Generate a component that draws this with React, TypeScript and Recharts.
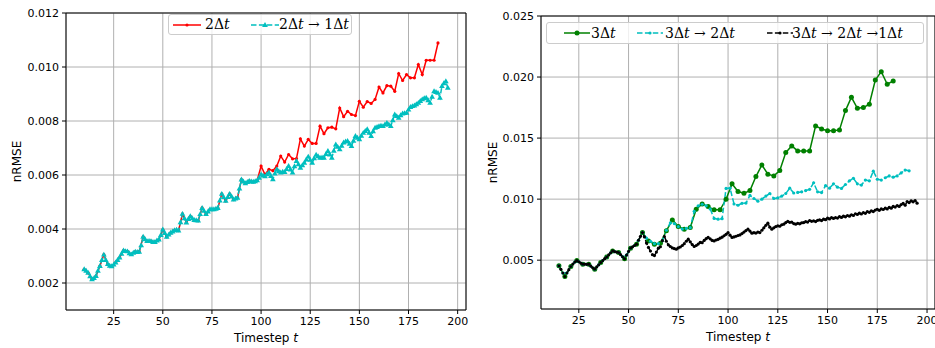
import React from 'react';
import { LineChart, Line, XAxis, YAxis, CartesianGrid, ReferenceArea } from 'recharts';

// timesteps: start, step, count
const steps = (start: number, step: number, n: number) =>
  Array.from({ length: n }, (_, i) => start + i * step);

// ---- left panel ----
const leftXTicks = [25, 50, 75, 100, 125, 150, 175, 200];
const leftYTicks = [0.002, 0.004, 0.006, 0.008, 0.01, 0.012];

// 2Δt, t = 10, 12, ..., 190
const red2dt = [
  0.00251, 0.00238, 0.00214, 0.00226, 0.00263, 0.00305, 0.0027, 0.00262, 0.00276, 0.00294,
  0.0032, 0.00317, 0.00306, 0.00316, 0.00316, 0.00371, 0.00355, 0.00355, 0.00352, 0.00361,
  0.00398, 0.00371, 0.00386, 0.00395, 0.00394, 0.00456, 0.00424, 0.00447, 0.00433, 0.00431,
  0.00478, 0.00455, 0.00473, 0.00473, 0.00478, 0.0053, 0.00504, 0.0053, 0.00509, 0.00516,
  0.00583, 0.00569, 0.00578, 0.00575, 0.0058, 0.00633, 0.00602, 0.00621, 0.00616, 0.00633,
  0.0067, 0.00648, 0.00676, 0.0066, 0.00661, 0.00734, 0.00707, 0.00732, 0.00717, 0.00717,
  0.00781, 0.00753, 0.00775, 0.00777, 0.00771, 0.00848, 0.00816, 0.00836, 0.00824, 0.0082,
  0.00873, 0.00851, 0.00872, 0.00865, 0.0088, 0.00926, 0.00904, 0.00931, 0.00929, 0.0091,
  0.00976, 0.0095, 0.00972, 0.0096, 0.0096, 0.01009, 0.00972, 0.01025, 0.01025, 0.01025,
  0.01089,
];

// 2Δt→1Δt, t = 10, 11, ..., 195
const cyan2to1 = [
  0.00251, 0.00245, 0.00238, 0.00225, 0.00214, 0.00218, 0.00226, 0.00245, 0.00263, 0.00285,
  0.00305, 0.00285, 0.0027, 0.00264, 0.00262, 0.00268, 0.00276, 0.00285, 0.00294, 0.00308,
  0.0032, 0.00318, 0.00317, 0.0031, 0.00306, 0.00312, 0.00316, 0.00315, 0.00316, 0.0034,
  0.00371, 0.00362, 0.00355, 0.00356, 0.00355, 0.00352, 0.00352, 0.00357, 0.00361, 0.00378,
  0.00398, 0.00385, 0.00371, 0.00379, 0.00386, 0.00391, 0.00395, 0.00397, 0.00394, 0.00425,
  0.00456, 0.0044, 0.00424, 0.00437, 0.00447, 0.0044, 0.00433, 0.00432, 0.00431, 0.00455,
  0.00478, 0.00467, 0.00455, 0.00465, 0.00473, 0.00473, 0.00473, 0.00475, 0.00478, 0.00505,
  0.0053, 0.00517, 0.00504, 0.00518, 0.0053, 0.0052, 0.00509, 0.00513, 0.00516, 0.0055,
  0.00583, 0.00576, 0.00569, 0.00574, 0.00578, 0.00576, 0.00575, 0.00577, 0.0058, 0.0059,
  0.00602, 0.00598, 0.00595, 0.00603, 0.00609, 0.00596, 0.00584, 0.00605, 0.00621, 0.00614,
  0.00609, 0.00612, 0.00611, 0.00622, 0.00633, 0.0062, 0.00609, 0.00632, 0.00652, 0.0064,
  0.00627, 0.00636, 0.00645, 0.00657, 0.00668, 0.00656, 0.00645, 0.00662, 0.00675, 0.00669,
  0.00664, 0.00665, 0.00664, 0.00678, 0.00689, 0.00676, 0.00664, 0.0069, 0.00713, 0.00704,
  0.00695, 0.00708, 0.0072, 0.00724, 0.00726, 0.00716, 0.00707, 0.00727, 0.00744, 0.00738,
  0.00732, 0.00745, 0.00756, 0.00763, 0.00769, 0.00756, 0.00744, 0.00762, 0.00775, 0.00778,
  0.00781, 0.00782, 0.00781, 0.00787, 0.00793, 0.00787, 0.00781, 0.00803, 0.00824, 0.00818,
  0.00812, 0.00821, 0.00828, 0.00829, 0.0083, 0.00842, 0.00852, 0.00855, 0.00857, 0.00862,
  0.00867, 0.00874, 0.0088, 0.00884, 0.00886, 0.00877, 0.00867, 0.0089, 0.0091, 0.00907,
  0.00904, 0.00886, 0.00929, 0.0094, 0.00947, 0.00923,
];

// ---- right panel ----
const rightXTicks = [25, 50, 75, 100, 125, 150, 175, 200];
const rightYTicks = [0.005, 0.01, 0.015, 0.02, 0.025];

// 3Δt, t = 15, 18, ..., 183
const green3dt = [
  0.00454, 0.00366, 0.00448, 0.00497, 0.00467, 0.00467, 0.00426, 0.00481, 0.00525, 0.00576,
  0.00563, 0.00511, 0.00598, 0.00631, 0.00726, 0.00658, 0.00631, 0.00639, 0.0074, 0.0083,
  0.00776, 0.00754, 0.00767, 0.00917, 0.00961, 0.00939, 0.00912, 0.00912, 0.00999, 0.01125,
  0.01062, 0.01048, 0.0107, 0.01185, 0.0128, 0.01204, 0.0119, 0.01234, 0.01381, 0.01436,
  0.01395, 0.01395, 0.01395, 0.016, 0.01575, 0.01561, 0.01561, 0.01567, 0.01725, 0.01834,
  0.01744, 0.0175, 0.01777, 0.01976, 0.02044, 0.01941, 0.01968,
];

// 3Δt→2Δt, t = 15, 17, ..., 191
const cyan3to2 = [
  0.00454, 0.00395, 0.00395, 0.00448, 0.00485, 0.00487, 0.00467, 0.00466, 0.00452, 0.00426,
  0.00462, 0.00497, 0.00525, 0.0056, 0.0057, 0.00563, 0.00528, 0.00542, 0.00598, 0.0062,
  0.00663, 0.00726, 0.0068, 0.00655, 0.00635, 0.00636, 0.0066, 0.00745, 0.00805, 0.008,
  0.00775, 0.00755, 0.0076, 0.00766, 0.009, 0.00945, 0.00958, 0.00945, 0.0092, 0.00842,
  0.00836, 0.0084, 0.01088, 0.0109, 0.0096, 0.0095, 0.00966, 0.00968, 0.0103, 0.01005,
  0.00983, 0.01, 0.01025, 0.01046, 0.01005, 0.0101, 0.01025, 0.01046, 0.0109, 0.0105,
  0.01055, 0.0106, 0.0107, 0.0108, 0.01134, 0.0106, 0.01054, 0.0111, 0.0109, 0.01125,
  0.01098, 0.01088, 0.0112, 0.0115, 0.0117, 0.01125, 0.01115, 0.01156, 0.0115, 0.01229,
  0.01163, 0.01156, 0.01175, 0.0119, 0.0118, 0.0119, 0.01215, 0.01238, 0.01232,
];

// 3Δt→2Δt→1Δt, t = 15, 16, ..., 195
const black3to2to1 = [
  0.00454, 0.00425, 0.00395, 0.00366, 0.00395, 0.00422, 0.00448, 0.00468, 0.00485, 0.00497,
  0.00487, 0.00476, 0.00467, 0.00468, 0.00466, 0.00467, 0.00452, 0.00438, 0.00426, 0.00445,
  0.00462, 0.00481, 0.00497, 0.00512, 0.00525, 0.00543, 0.0056, 0.00576, 0.0057, 0.00566,
  0.00563, 0.00545, 0.00528, 0.00511, 0.00542, 0.00572, 0.00598, 0.0061, 0.0062, 0.00631,
  0.00663, 0.00695, 0.00726, 0.0069, 0.0064, 0.00604, 0.00575, 0.00545, 0.00538, 0.00566,
  0.00598, 0.0061, 0.0066, 0.00694, 0.00655, 0.00626, 0.00612, 0.006, 0.00595, 0.0059,
  0.006, 0.00608, 0.0062, 0.00635, 0.00655, 0.00672, 0.0065, 0.00628, 0.00612, 0.0062,
  0.00632, 0.00645, 0.00643, 0.00662, 0.00676, 0.00686, 0.00675, 0.00662, 0.00658, 0.00665,
  0.00671, 0.0068, 0.00688, 0.007, 0.00712, 0.00726, 0.00705, 0.00686, 0.0069, 0.00696,
  0.00702, 0.00707, 0.00718, 0.0073, 0.00742, 0.00754, 0.00738, 0.00721, 0.00725, 0.00722,
  0.0073, 0.00726, 0.00745, 0.00765, 0.00785, 0.00803, 0.0077, 0.00754, 0.00765, 0.00775,
  0.00781, 0.00778, 0.0079, 0.00795, 0.00808, 0.00817, 0.0081, 0.00812, 0.008, 0.00795,
  0.00802, 0.00798, 0.00806, 0.00808, 0.00815, 0.00812, 0.00825, 0.00818, 0.00822, 0.00816,
  0.00826, 0.0083, 0.00824, 0.00836, 0.00832, 0.00844, 0.00838, 0.00848, 0.00842, 0.00849,
  0.00845, 0.00856, 0.0085, 0.0086, 0.00855, 0.00866, 0.0086, 0.00872, 0.00866, 0.0088,
  0.00875, 0.00885, 0.00878, 0.0089, 0.00884, 0.00898, 0.00892, 0.00904, 0.00898, 0.0091,
  0.00917, 0.00908, 0.0092, 0.00915, 0.00926, 0.0092, 0.00932, 0.00926, 0.0094, 0.00935,
  0.00947, 0.0094, 0.00955, 0.00965, 0.0095, 0.0098, 0.00972, 0.00986, 0.00978, 0.00988,
  0.00967,
];

const toRows = (ts: number[], vs: number[]) => vs.map((v, i) => ({ t: ts[i], v }));

const redData = toRows(steps(10, 2, red2dt.length), red2dt);
const cyanLeftData = toRows(steps(10, 1, cyan2to1.length), cyan2to1);
const greenData = toRows(steps(15, 3, green3dt.length), green3dt);
const cyanRightData = toRows(steps(15, 2, cyan3to2.length), cyan3to2);
const blackData = toRows(steps(15, 1, black3to2to1.length), black3to2to1);

const RED = '#ff0000';
const CYAN = '#00bfbf';
const GREEN = '#008000';
const BLACK = '#000000';
const GRID = '#b0b0b0';
const DASH = '5.5 2.4';

const tickStyle = { fontFamily: 'DejaVu Sans', fontSize: 11, fill: '#000' };
const labelFont = { fontFamily: 'DejaVu Sans', fontSize: 12, fill: '#000' };

const circleDot = (color: string, r: number) => (p: any) => {
  if (p.cx == null || p.cy == null) return <g key={`e${p.index}`} />;
  return <circle key={`c${p.index}`} cx={p.cx} cy={p.cy} r={r} fill={color} stroke="none" />;
};

const triangleDot = (color: string, s: number) => (p: any) => {
  if (p.cx == null || p.cy == null) return <g key={`e${p.index}`} />;
  const { cx, cy } = p;
  return (
    <path
      key={`t${p.index}`}
      d={`M${cx},${cy - s} L${cx + s * 0.95},${cy + s * 0.65} L${cx - s * 0.95},${cy + s * 0.65} Z`}
      fill={color}
      stroke="none"
    />
  );
};

const xLabel = (fromBottom: number) => (props: any) => {
  const vb = props.viewBox;
  return (
    <text x={vb.x + vb.width / 2} y={vb.y + vb.height - fromBottom} textAnchor="middle" {...labelFont}>
      Timestep <tspan fontStyle="italic">t</tspan>
    </text>
  );
};

const yLabel = (baselineX: number) => (props: any) => {
  const vb = props.viewBox;
  const cy = vb.y + vb.height / 2;
  return (
    <text
      x={vb.x + baselineX}
      y={cy}
      textAnchor="middle"
      transform={`rotate(-90, ${vb.x + baselineX}, ${cy})`}
      {...labelFont}
    >
      nRMSE
    </text>
  );
};

type LegendEntry = {
  label: React.ReactNode;
  color: string;
  dashed: boolean;
  marker: 'dot' | 'tri' | 'circle';
  handleX: number;
  handleW: number;
  textX: number;
};

const LegendBox = ({ left, top, width, height, entries }: any) => (
  <div
    style={{
      position: 'absolute',
      left,
      top,
      width,
      height,
      boxSizing: 'border-box',
      border: '1px solid #cccccc',
      borderRadius: 3,
      background: 'rgba(255,255,255,0.8)',
      fontFamily: 'DejaVu Serif',
      fontSize: 14,
      color: '#000',
    }}
  >
    {entries.map((e: LegendEntry, i: number) => (
      <React.Fragment key={i}>
        <svg
          width={e.handleW}
          height={10}
          style={{ position: 'absolute', left: e.handleX, top: height / 2 - 6 }}
        >
          <line
            x1={0}
            y1={5}
            x2={e.handleW}
            y2={5}
            stroke={e.color}
            strokeWidth={1.5}
            strokeDasharray={e.dashed ? DASH : undefined}
          />
          {e.marker === 'tri' ? (
            <path
              d={`M${e.handleW / 2},${2} L${e.handleW / 2 + 2.9},${7} L${e.handleW / 2 - 2.9},${7} Z`}
              fill={e.color}
            />
          ) : (
            <circle cx={e.handleW / 2} cy={5} r={e.marker === 'circle' ? 2.5 : 1.6} fill={e.color} />
          )}
        </svg>
        <span
          style={{
            position: 'absolute',
            left: e.textX,
            top: 0,
            lineHeight: `${height - 2}px`,
            whiteSpace: 'nowrap',
          }}
        >
          {e.label}
        </span>
      </React.Fragment>
    ))}
  </div>
);

const T = () => <i>t</i>;

const leftLegend: LegendEntry[] = [
  { label: <>2Δ<T /></>, color: RED, dashed: false, marker: 'dot', handleX: 4, handleW: 28, textX: 36 },
  {
    label: <>2Δ<T /> → 1Δ<T /></>,
    color: CYAN,
    dashed: true,
    marker: 'tri',
    handleX: 82,
    handleW: 28,
    textX: 110,
  },
];

const rightLegend: LegendEntry[] = [
  { label: <>3Δ<T /></>, color: GREEN, dashed: false, marker: 'circle', handleX: 17, handleW: 26, textX: 44 },
  {
    label: <>3Δ<T /> → 2Δ<T /></>,
    color: CYAN,
    dashed: true,
    marker: 'dot',
    handleX: 90,
    handleW: 26,
    textX: 118,
  },
  {
    label: <>3Δ<T /> → 2Δ<T /> →1Δ<T /></>,
    color: BLACK,
    dashed: true,
    marker: 'dot',
    handleX: 220,
    handleW: 26,
    textX: 245,
  },
];

export default function App() {
  return (
    <div
      style={{
        position: 'absolute',
        left: 0,
        top: 0,
        width: 935,
        height: 348,
        overflow: 'hidden',
        background: '#fff',
      }}
    >
      <div style={{ position: 'absolute', left: 0, top: 0 }}>
        <LineChart width={470} height={348} margin={{ top: 13, right: 4, bottom: 0, left: 0 }}>
          <CartesianGrid stroke={GRID} strokeWidth={1} />
          <XAxis
            dataKey="t"
            type="number"
            domain={[0.75, 204.25]}
            ticks={leftXTicks}
            allowDataOverflow
            height={38}
            tick={tickStyle}
            tickSize={4}
            tickMargin={3}
            tickLine={{ stroke: '#000' }}
            axisLine={false}
            label={{ content: xLabel(6) }}
          />
          <YAxis
            type="number"
            domain={[0.001, 0.012]}
            ticks={leftYTicks}
            allowDataOverflow
            width={66}
            tick={tickStyle}
            tickSize={4}
            tickMargin={3}
            tickLine={{ stroke: '#000' }}
            axisLine={false}
            tickFormatter={(v: number) => v.toFixed(3)}
            label={{ content: yLabel(20.5) }}
          />
          <Line
            data={redData}
            dataKey="v"
            stroke={RED}
            strokeWidth={1.5}
            dot={circleDot(RED, 1.6)}
            activeDot={false}
            isAnimationActive={false}
          />
          <Line
            data={cyanLeftData}
            dataKey="v"
            stroke={CYAN}
            strokeWidth={1.5}
            strokeDasharray={DASH}
            dot={triangleDot(CYAN, 3)}
            activeDot={false}
            isAnimationActive={false}
          />
          <ReferenceArea
            x1={0.75}
            x2={204.25}
            y1={0.001}
            y2={0.012}
            fill="none"
            stroke="#000"
            strokeWidth={1}
            ifOverflow="visible"
          />
        </LineChart>
        <LegendBox left={168} top={14} width={184} height={21} entries={leftLegend} />
      </div>

      <div style={{ position: 'absolute', left: 470, top: 0 }}>
        <LineChart width={470} height={348} margin={{ top: 16, right: 5, bottom: 0, left: 0 }}>
          <CartesianGrid stroke={GRID} strokeWidth={1} />
          <XAxis
            dataKey="t"
            type="number"
            domain={[6, 204]}
            ticks={rightXTicks}
            allowDataOverflow
            height={39}
            tick={tickStyle}
            tickSize={4}
            tickMargin={3}
            tickLine={{ stroke: '#000' }}
            axisLine={false}
            label={{ content: xLabel(7.5) }}
          />
          <YAxis
            type="number"
            domain={[0.001, 0.025]}
            ticks={rightYTicks}
            allowDataOverflow
            width={71}
            tick={tickStyle}
            tickSize={4}
            tickMargin={3}
            tickLine={{ stroke: '#000' }}
            axisLine={false}
            tickFormatter={(v: number) => v.toFixed(3)}
            label={{ content: yLabel(26.5) }}
          />
          <Line
            data={greenData}
            dataKey="v"
            stroke={GREEN}
            strokeWidth={1.5}
            dot={circleDot(GREEN, 2.5)}
            activeDot={false}
            isAnimationActive={false}
          />
          <Line
            data={cyanRightData}
            dataKey="v"
            stroke={CYAN}
            strokeWidth={1.5}
            strokeDasharray={DASH}
            dot={circleDot(CYAN, 1.6)}
            activeDot={false}
            isAnimationActive={false}
          />
          <Line
            data={blackData}
            dataKey="v"
            stroke={BLACK}
            strokeWidth={1.5}
            strokeDasharray={DASH}
            dot={circleDot(BLACK, 1.6)}
            activeDot={false}
            isAnimationActive={false}
          />
          <ReferenceArea
            x1={6}
            x2={204}
            y1={0.001}
            y2={0.025}
            fill="none"
            stroke="#000"
            strokeWidth={1}
            ifOverflow="visible"
          />
        </LineChart>
        <LegendBox left={76} top={22} width={378} height={22} entries={rightLegend} />
      </div>
    </div>
  );
}
